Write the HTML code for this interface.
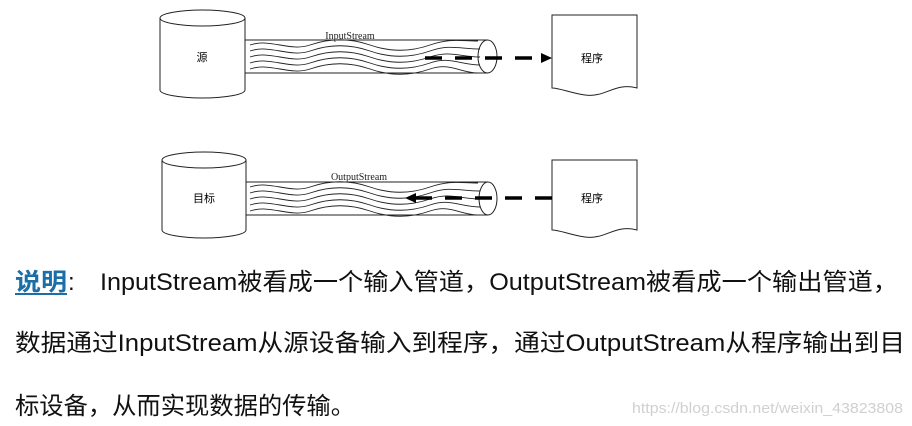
<!DOCTYPE html>
<html><head><meta charset="utf-8"><style>
html,body{margin:0;padding:0;background:#fff;}
svg{display:block}
</style></head><body>
<svg width="912" height="426" viewBox="0 0 912 426" xmlns="http://www.w3.org/2000/svg">
<defs>
<g id="waves" fill="none" stroke="#222" stroke-width="0.9">
<path d="M250,-12 c20,-7 40,7 60,0 s40,-7 60,0 s40,7 60,0 s30,-4 48,-4"/>
<path d="M250,-6 c20,-7 40,7 60,0 s40,-7 60,0 s40,7 60,0 s30,-2 50,-2"/>
<path d="M250,0 c20,-7 40,7 60,0 s40,-7 60,0 s40,7 60,0 s30,0 50,0"/>
<path d="M250,6 c20,-7 40,7 60,0 s40,-7 60,0 s40,7 60,0 s30,2 50,2"/>
<path d="M250,12 c20,-7 40,7 60,0 s40,-7 60,0 s40,7 60,0 s30,4 48,4"/>
</g>
</defs>
<!-- top diagram -->
<g stroke="#222" stroke-width="1" fill="#fff">
<path d="M160,18 L160,90 A42.5,8 0 0 0 245,90 L245,18"/>
<ellipse cx="202.5" cy="18" rx="42.5" ry="8"/>
<line x1="245" y1="40" x2="488" y2="40"/>
<line x1="245" y1="73" x2="488" y2="73"/>
<ellipse cx="487.5" cy="56.5" rx="9.5" ry="16.5"/>
<path d="M552,15 L637,15 L637,88 C615,82 605,98 585,95 C570,93 560,88 552,88 Z"/>
</g>
<use href="#waves" transform="translate(0,57)"/>
<text x="350" y="39" font-family="Liberation Serif,serif" font-size="10" text-anchor="middle" fill="#222">InputStream</text>
<text x="202" y="61" font-family="Liberation Sans,'Noto Sans CJK SC',sans-serif" font-size="11" text-anchor="middle">源</text>
<text x="592" y="62" font-family="Liberation Sans,'Noto Sans CJK SC',sans-serif" font-size="11" text-anchor="middle">程序</text>
<line x1="425" y1="58" x2="542" y2="58" stroke="#000" stroke-width="3.5" stroke-dasharray="17,13"/>
<polygon points="541,53 552,58 541,63" fill="#000"/>
<!-- bottom diagram -->
<g stroke="#222" stroke-width="1" fill="#fff">
<path d="M162,160 L162,230 A42,8 0 0 0 246,230 L246,160"/>
<ellipse cx="204" cy="160" rx="42" ry="8"/>
<line x1="246" y1="182" x2="488" y2="182"/>
<line x1="246" y1="215" x2="488" y2="215"/>
<ellipse cx="488" cy="198.5" rx="9" ry="16.5"/>
<path d="M552,160 L637,160 L637,230 C615,224 605,240 585,237 C570,235 560,230 552,230 Z"/>
</g>
<use href="#waves" transform="translate(0,199)"/>
<text x="359" y="180" font-family="Liberation Serif,serif" font-size="10" text-anchor="middle" fill="#222">OutputStream</text>
<text x="204" y="202" font-family="Liberation Sans,'Noto Sans CJK SC',sans-serif" font-size="11" text-anchor="middle">目标</text>
<text x="592" y="202" font-family="Liberation Sans,'Noto Sans CJK SC',sans-serif" font-size="11" text-anchor="middle">程序</text>
<line x1="552" y1="198" x2="416" y2="198" stroke="#000" stroke-width="3.5" stroke-dasharray="17,13"/>
<polygon points="416,193 405,198 416,203" fill="#000"/>
<!-- text -->
<g font-family="Liberation Sans,'Noto Sans CJK SC',sans-serif" font-size="24" fill="#111">
<text x="15" y="290" font-weight="bold" fill="#1a6fa8" textLength="52" lengthAdjust="spacingAndGlyphs">说明</text>
<line x1="15" y1="294" x2="67" y2="294" stroke="#1a6fa8" stroke-width="2"/>
<text x="68" y="290">:</text>
<text x="100" y="290" textLength="798" lengthAdjust="spacingAndGlyphs">InputStream被看成一个输入管道，OutputStream被看成一个输出管道，</text>
<text x="15" y="351" textLength="890" lengthAdjust="spacingAndGlyphs">数据通过InputStream从源设备输入到程序，通过OutputStream从程序输出到目</text>
<text x="15" y="414" textLength="340" lengthAdjust="spacingAndGlyphs">标设备，从而实现数据的传输。</text>
</g>
<text x="903" y="413" text-anchor="end" font-family="Liberation Sans,sans-serif" font-size="15" fill="#d0d0d0" textLength="271" lengthAdjust="spacingAndGlyphs">https://blog.csdn.net/weixin_43823808</text>
</svg>
</body></html>
